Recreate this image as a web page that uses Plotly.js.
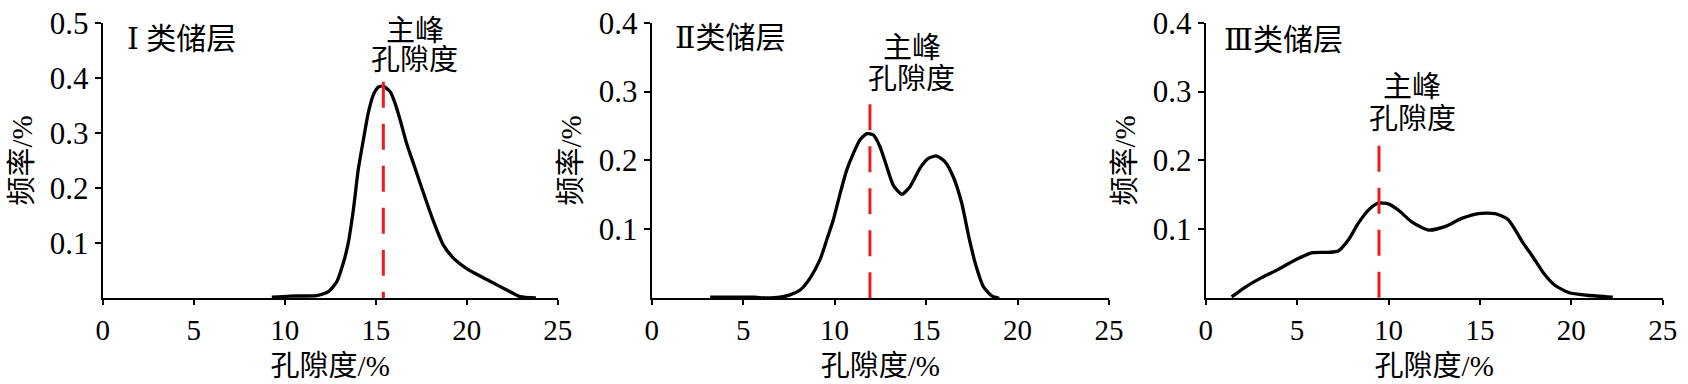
<!DOCTYPE html>
<html><head><meta charset="utf-8">
<script src="https://cdn.plot.ly/plotly-3.0.1.min.js"></script>
<style>html,body{margin:0;padding:0;background:#fff}#chart{width:1688px;height:384px}</style>
</head><body><div id="chart"></div>
<script>
// ---- data ----
const panelLabels = ['Ⅰ 类储层', 'Ⅱ类储层', 'Ⅲ类储层'];
const xTitle = '孔隙度/%';
const yTitle = '频率/%';
const peakLabel = ['主峰', '孔隙度'];

const porosity1 = [9.29,10.29,11.76,12.40,12.86,13.22,13.49,13.77,14.04,14.32,14.59,14.87,15.14,15.42,15.79,16.06,16.34,16.70,17.07,17.53,18.08,18.71,19.27,20.0,20.70,21.28,22.20,22.93,23.8];
const freq1 = [0.002,0.004,0.005,0.012,0.030,0.064,0.100,0.160,0.233,0.287,0.336,0.369,0.383,0.385,0.375,0.354,0.324,0.281,0.245,0.200,0.148,0.097,0.073,0.054,0.041,0.031,0.015,0.003,0.0005];

const porosity2 = [3.2,4.5,5.6,6.3,7.01,7.56,8.11,8.65,9.20,9.57,9.93,10.30,10.66,11.02,11.39,11.76,12.12,12.48,12.85,13.21,13.67,14.12,14.67,15.12,15.58,16.04,16.49,16.95,17.37,17.74,18.13,18.61,19.0];
const freq2 = [0.0015,0.0015,0.0015,0.0005,0.0015,0.005,0.012,0.029,0.056,0.085,0.114,0.152,0.186,0.210,0.230,0.239,0.237,0.220,0.191,0.164,0.151,0.162,0.189,0.203,0.2065,0.198,0.176,0.138,0.085,0.046,0.017,0.003,0.0];

const porosity3 = [1.42,2.15,3.06,3.97,4.89,5.80,6.71,7.25,7.80,8.35,8.90,9.44,9.99,10.54,11.27,12.18,13.09,14.00,14.91,15.83,16.55,17.37,17.90,18.50,19.10,19.89,20.88,22.27];
const freq3 = [0.002,0.016,0.030,0.042,0.0556,0.066,0.0667,0.0686,0.0846,0.109,0.128,0.138,0.137,0.128,0.111,0.099,0.104,0.116,0.123,0.123,0.114,0.080,0.060,0.036,0.019,0.008,0.0044,0.0015];

const peakPorosity = [15.42, 11.93, 9.48];
const peakLineTop = [0.393, 0.2816, 0.2215];

const xTickVals = [0,5,10,15,20,25];
const xTickText = ['0','5','10','15','20','25'];
const yTickVals1 = [0.1,0.2,0.3,0.4,0.5];
const yTickText1 = ['0.1','0.2','0.3','0.4','0.5'];
const yTickVals23 = [0.1,0.2,0.3,0.4];
const yTickText23 = ['0.1','0.2','0.3','0.4'];
const yMax = [0.5, 0.4, 0.4];

// label positions (data coords)
const labelX = [1.23, 1.18, 0.88];
const labelY = [0.472, 0.378, 0.376];
const annX = [17.15, 14.23, 11.29];
const annY1 = [0.485, 0.3628, 0.306];
const annY2 = [0.432, 0.3179, 0.260];

// ---- drawing ----
const FONT = '"Liberation Serif", "DejaVu Serif", "Noto Sans CJK SC", serif';
const CJK = '"Liberation Serif", "Noto Sans CJK SC", serif';
const xs = [porosity1, porosity2, porosity3];
const ys = [freq1, freq2, freq3];
const traces = [];
const sfx = ['', '2', '3'];
for (let i = 0; i < 3; i++) {
  traces.push({
    type: 'scatter', mode: 'lines', x: xs[i], y: ys[i],
    xaxis: 'x' + sfx[i], yaxis: 'y' + sfx[i],
    line: {color: '#000', width: 3.3, shape: 'spline', smoothing: 0.6},
    hoverinfo: 'skip', showlegend: false
  });
  traces.push({
    type: 'scatter', mode: 'lines',
    x: [peakPorosity[i], peakPorosity[i]], y: [peakLineTop[i], 0],
    xaxis: 'x' + sfx[i], yaxis: 'y' + sfx[i],
    line: {color: '#ee1c1c', width: 3, dash: '26px,16px'},
    hoverinfo: 'skip', showlegend: false
  });
}

const xDomains = [[0.06084, 0.33039], [0.38608, 0.65699], [0.71428, 0.98501]];
const yDomain = [0.2232, 0.9409];

const layout = {
  width: 1688, height: 384,
  margin: {l: 0, r: 0, t: 0, b: 0},
  paper_bgcolor: '#fff', plot_bgcolor: '#fff',
  showlegend: false,
  annotations: [],
  font: {family: FONT, color: '#000'}
};
for (let i = 0; i < 3; i++) {
  layout['xaxis' + sfx[i]] = {
    domain: xDomains[i], anchor: 'y' + sfx[i],
    range: [0, 25], tickmode: 'array', tickvals: xTickVals, ticktext: xTickText,
    ticks: 'outside', ticklen: 5, tickwidth: 2, tickcolor: '#000',
    showline: true, linecolor: '#000', linewidth: 2,
    showgrid: false, zeroline: false, fixedrange: true,
    tickfont: {family: FONT, size: 29, color: '#000'},
    title: {text: xTitle, font: {family: CJK, size: 29, color: '#000'}, standoff: 11}
  };
  layout['yaxis' + sfx[i]] = {
    domain: yDomain, anchor: 'x' + sfx[i],
    range: [0, yMax[i]], tickmode: 'array',
    tickvals: i === 0 ? yTickVals1 : yTickVals23,
    ticktext: i === 0 ? yTickText1 : yTickText23,
    ticks: 'outside', ticklen: 6, tickwidth: 2, tickcolor: '#000',
    showline: true, linecolor: '#000', linewidth: 2,
    showgrid: false, zeroline: false, fixedrange: true,
    tickfont: {family: FONT, size: 31, color: '#000'},
    title: {text: yTitle, font: {family: CJK, size: 29, color: '#000'}, standoff: 9}
  };
  layout.annotations.push({
    xref: 'x' + sfx[i], yref: 'y' + sfx[i], x: labelX[i], y: labelY[i],
    xanchor: 'left', yanchor: 'middle', showarrow: false,
    text: panelLabels[i], font: {family: FONT, size: 30, color: '#000'}
  });
  layout.annotations.push({
    xref: 'x' + sfx[i], yref: 'y' + sfx[i], x: annX[i], y: annY1[i],
    xanchor: 'center', yanchor: 'middle', showarrow: false,
    text: peakLabel[0], font: {family: CJK, size: 29, color: '#000'}
  });
  layout.annotations.push({
    xref: 'x' + sfx[i], yref: 'y' + sfx[i], x: annX[i], y: annY2[i],
    xanchor: 'center', yanchor: 'middle', showarrow: false,
    text: peakLabel[1], font: {family: CJK, size: 29, color: '#000'}
  });
}

Plotly.newPlot('chart', traces, layout, {staticPlot: true, displayModeBar: false});
</script>
</body></html>
